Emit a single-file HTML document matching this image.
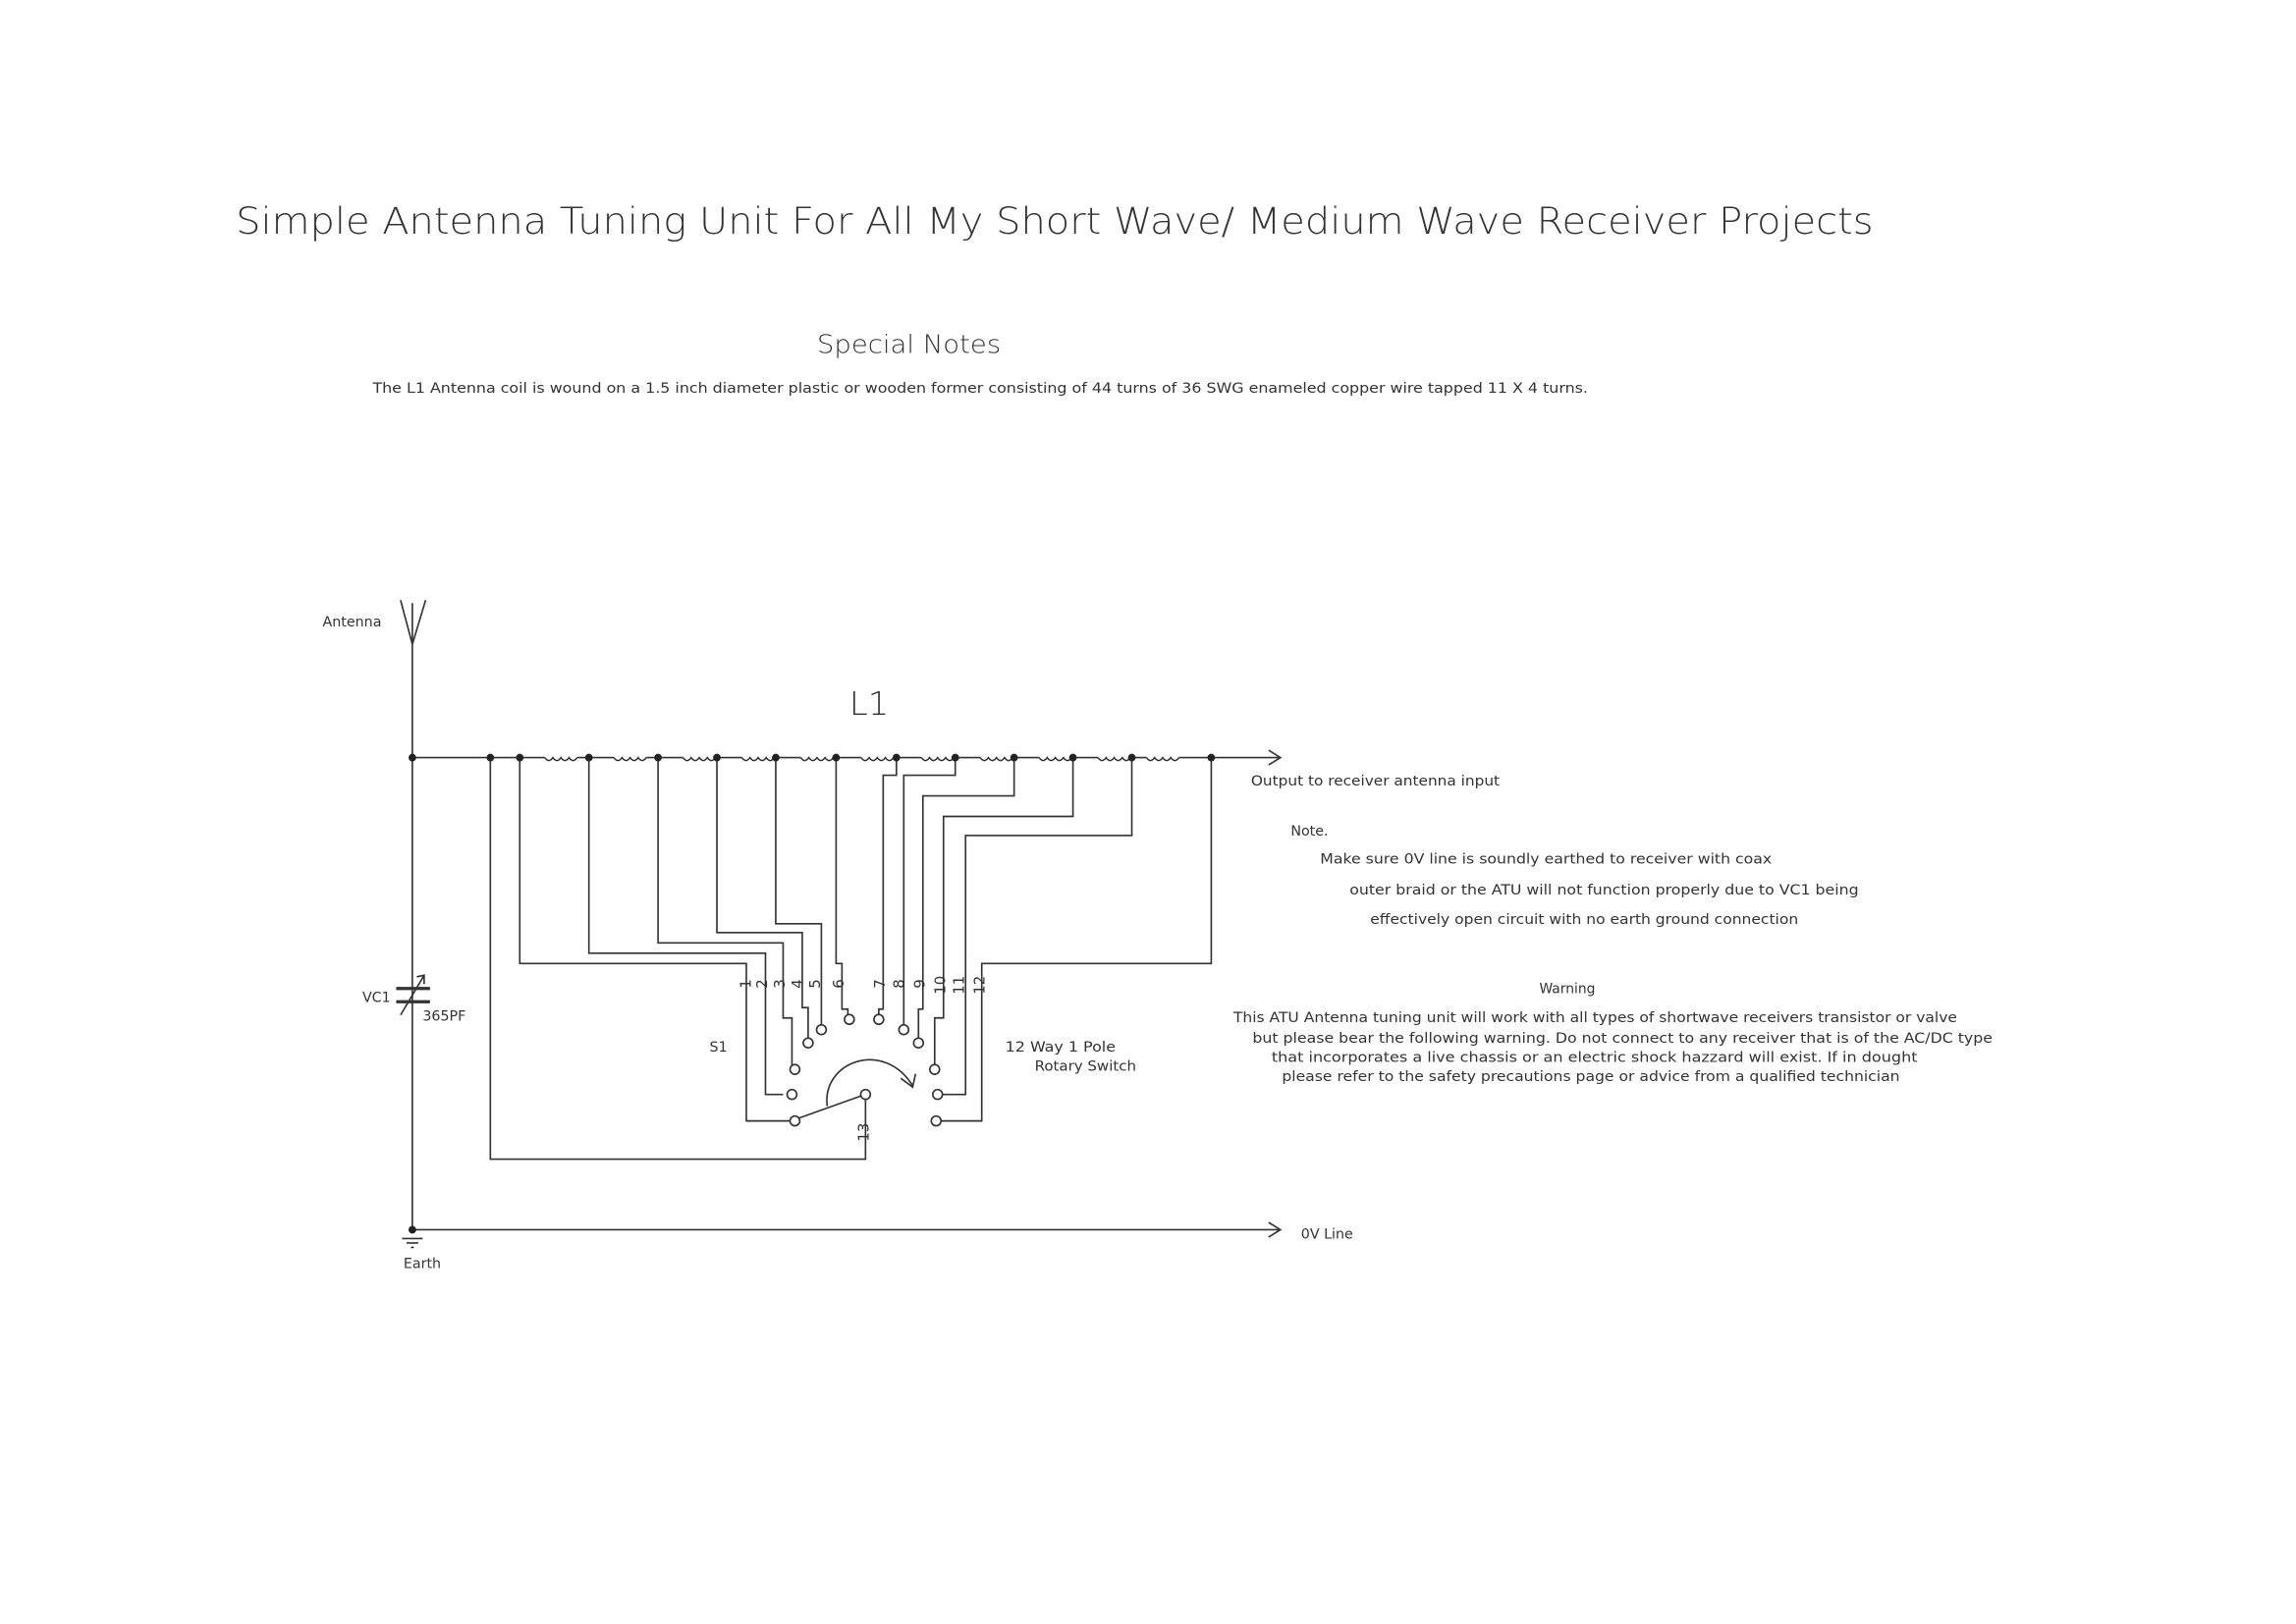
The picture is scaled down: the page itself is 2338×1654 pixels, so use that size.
<!DOCTYPE html>
<html><head><meta charset="utf-8"><style>
html,body{margin:0;padding:0;background:#fff;}
svg{display:block;}
text{font-family:"DejaVu Sans","Liberation Sans",sans-serif;fill:#333;}
</style></head><body>
<svg width="2338" height="1654" viewBox="0 0 1560 1104" xmlns="http://www.w3.org/2000/svg">
<rect width="1560" height="1104" fill="#fff"/>
<text x="160" y="159" font-size="25" font-weight="200" textLength="1113" lengthAdjust="spacingAndGlyphs" fill="#555">Simple Antenna Tuning Unit For All My Short Wave/ Medium Wave Receiver Projects</text>
<text x="555" y="240" font-size="17" font-weight="200" textLength="125" lengthAdjust="spacingAndGlyphs" fill="#444">Special Notes</text>
<text x="253" y="267" font-size="9.5" textLength="826" lengthAdjust="spacingAndGlyphs">The L1 Antenna coil is wound on a 1.5 inch diameter plastic or wooden former consisting of  44 turns of 36 SWG enameled copper wire tapped 11 X 4 turns.</text>
<text x="577" y="486" font-size="22" font-weight="200" textLength="27" lengthAdjust="spacingAndGlyphs" fill="#444">L1</text>

<g stroke="#333" stroke-width="1.1" fill="none">
<!-- antenna -->
<path d="M280 438 V836 M272 408 L280 438 L289 408 M280 410 V436"/>
<!-- bus -->
<path d="M280 515 H370 M392 515 H417 M439 515 H464 M486 515 H504 M526 515 H544 M566 515 H585 M607 515 H626 M648 515 H666 M688 515 H706 M728 515 H746 M768 515 H779 M801 515 H870"/>
<path d="M862 510 L870 515 L862 520"/>
<g stroke-width="1">
<path d="M370 515 q2.75 4 5.5 0 q2.75 4 5.5 0 q2.75 4 5.5 0 q2.75 4 5.5 0"/>
<path d="M417 515 q2.75 4 5.5 0 q2.75 4 5.5 0 q2.75 4 5.5 0 q2.75 4 5.5 0"/>
<path d="M464 515 q2.75 4 5.5 0 q2.75 4 5.5 0 q2.75 4 5.5 0 q2.75 4 5.5 0"/>
<path d="M504 515 q2.75 4 5.5 0 q2.75 4 5.5 0 q2.75 4 5.5 0 q2.75 4 5.5 0"/>
<path d="M544 515 q2.75 4 5.5 0 q2.75 4 5.5 0 q2.75 4 5.5 0 q2.75 4 5.5 0"/>
<path d="M585 515 q2.75 4 5.5 0 q2.75 4 5.5 0 q2.75 4 5.5 0 q2.75 4 5.5 0"/>
<path d="M626 515 q2.75 4 5.5 0 q2.75 4 5.5 0 q2.75 4 5.5 0 q2.75 4 5.5 0"/>
<path d="M666 515 q2.75 4 5.5 0 q2.75 4 5.5 0 q2.75 4 5.5 0 q2.75 4 5.5 0"/>
<path d="M706 515 q2.75 4 5.5 0 q2.75 4 5.5 0 q2.75 4 5.5 0 q2.75 4 5.5 0"/>
<path d="M746 515 q2.75 4 5.5 0 q2.75 4 5.5 0 q2.75 4 5.5 0 q2.75 4 5.5 0"/>
<path d="M779 515 q2.75 4 5.5 0 q2.75 4 5.5 0 q2.75 4 5.5 0 q2.75 4 5.5 0"/>
</g>
<!-- OV line -->
<path d="M280 836 H870 M862 831 L870 836 L862 841"/>
<!-- earth -->
<path d="M273 842 H287 M276 845 H284 M279 848 H281"/>
<!-- capacitor -->
<path d="M269 672 H292 M269 681 H292" stroke-width="2.2"/>
<path d="M272 690 L288 663 M283 664 L288 663 L288 669"/>
<!-- left branches -->
<path d="M333 515 V788 H588 V746"/>
<path d="M353 515 V655 H507 V762 H537"/>
<path d="M400 515 V648 H520 V744 H532"/>
<path d="M447 515 V641 H532 V692 H538 V724"/>
<path d="M487 515 V634 H545 V685 H549 V706"/>
<path d="M527 515 V628 H558 V697"/>
<path d="M568 515 V655 H572 V686 H576 V690"/>
<!-- right branches -->
<path d="M609 515 V527 H600 V686 H597 V690"/>
<path d="M649 515 V527 H614 V697"/>
<path d="M689 515 V541 H627 V686 H624 V706"/>
<path d="M729 515 V555 H641 V692 H635 V724"/>
<path d="M769 515 V568 H656 V744 H640"/>
<path d="M823 515 V655 H667 V762 H639"/>
<!-- contacts -->
<g fill="#fff">
<circle cx="540" cy="762" r="3.3"/><circle cx="538" cy="744" r="3.3"/><circle cx="540" cy="727" r="3.3"/>
<circle cx="549" cy="709" r="3.3"/><circle cx="558" cy="700" r="3.3"/><circle cx="577" cy="693" r="3.3"/>
<circle cx="597" cy="693" r="3.3"/><circle cx="614" cy="700" r="3.3"/><circle cx="624" cy="709" r="3.3"/>
<circle cx="635" cy="727" r="3.3"/><circle cx="637" cy="744" r="3.3"/><circle cx="636" cy="762" r="3.3"/>
<circle cx="588" cy="744" r="3.3"/>
</g>
<path d="M543 760 L585 745"/>
<path d="M562 752 C558 722 600 706 620 738"/>
<path d="M612 733 L620 739 L622 730"/>
</g>
<!-- dots -->
<g fill="#222">
<circle cx="280" cy="515" r="2.6"/><circle cx="333" cy="515" r="2.6"/><circle cx="353" cy="515" r="2.6"/>
<circle cx="400" cy="515" r="2.6"/><circle cx="447" cy="515" r="2.6"/><circle cx="487" cy="515" r="2.6"/>
<circle cx="527" cy="515" r="2.6"/><circle cx="568" cy="515" r="2.6"/><circle cx="609" cy="515" r="2.6"/>
<circle cx="649" cy="515" r="2.6"/><circle cx="689" cy="515" r="2.6"/><circle cx="729" cy="515" r="2.6"/>
<circle cx="769" cy="515" r="2.6"/><circle cx="823" cy="515" r="2.6"/><circle cx="280" cy="836" r="2.6"/>
</g>
<!-- switch numbers -->
<g font-size="10">
<text transform="translate(510,672) rotate(-90)">1</text>
<text transform="translate(521,672) rotate(-90)">2</text>
<text transform="translate(533,672) rotate(-90)">3</text>
<text transform="translate(545,672) rotate(-90)">4</text>
<text transform="translate(557,672) rotate(-90)">5</text>
<text transform="translate(573,672) rotate(-90)">6</text>
<text transform="translate(601,672) rotate(-90)">7</text>
<text transform="translate(614,672) rotate(-90)">8</text>
<text transform="translate(628,672) rotate(-90)">9</text>
<text transform="translate(642,676) rotate(-90)">10</text>
<text transform="translate(655,676) rotate(-90)">11</text>
<text transform="translate(669,676) rotate(-90)">12</text>
<text transform="translate(590,776) rotate(-90)">13</text>
</g>
<g font-size="9.5">
<text x="219" y="426" textLength="40" lengthAdjust="spacingAndGlyphs">Antenna</text>
<text x="246" y="681">VC1</text>
<text x="287" y="694">365PF</text>
<text x="274" y="862">Earth</text>
<text x="884" y="842">0V Line</text>
<text x="482" y="715">S1</text>
<text x="683" y="715" textLength="75" lengthAdjust="spacingAndGlyphs">12 Way 1 Pole</text>
<text x="703" y="728" textLength="69" lengthAdjust="spacingAndGlyphs">Rotary Switch</text>
<text x="850" y="534" textLength="169" lengthAdjust="spacingAndGlyphs">Output to receiver antenna input</text>
<text x="877" y="568">Note.</text>
<text x="897" y="587" textLength="307" lengthAdjust="spacingAndGlyphs">Make sure 0V line is soundly earthed to receiver with coax</text>
<text x="917" y="608" textLength="346" lengthAdjust="spacingAndGlyphs">outer braid or the ATU will not function properly due to VC1 being</text>
<text x="931" y="628" textLength="291" lengthAdjust="spacingAndGlyphs">effectively open circuit with no earth ground connection</text>
<text x="1046" y="675" textLength="38" lengthAdjust="spacingAndGlyphs">Warning</text>
<text x="838" y="695" textLength="492" lengthAdjust="spacingAndGlyphs">This ATU Antenna tuning unit will work with all types of shortwave receivers transistor or valve</text>
<text x="851" y="709" textLength="503" lengthAdjust="spacingAndGlyphs">but please bear the following warning. Do not connect to any receiver that is of the AC/DC type</text>
<text x="864" y="722" textLength="439" lengthAdjust="spacingAndGlyphs">that incorporates a live chassis or an electric shock hazzard will exist. If in dought</text>
<text x="871" y="735" textLength="420" lengthAdjust="spacingAndGlyphs">please refer to the safety precautions page or advice from a qualified technician</text>
</g>
</svg>
</body></html>
